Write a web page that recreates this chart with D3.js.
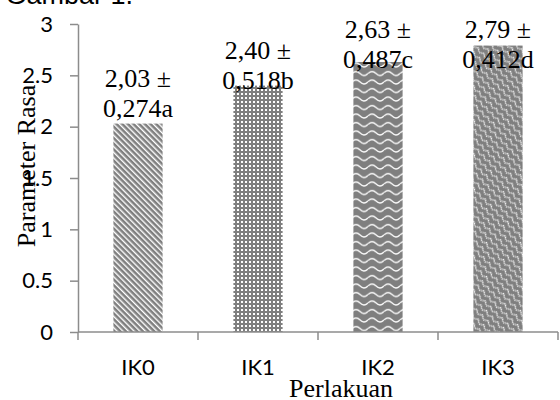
<!DOCTYPE html>
<html>
<head>
<meta charset="utf-8">
<script src="https://cdn.jsdelivr.net/npm/d3@7"></script>
<style>
body { margin: 0; background: #fff; }
svg { display: block; }
</style>
</head>
<body>
<svg width="560" height="400"></svg>
<script>
// data
var categories = ["IK0", "IK1", "IK2", "IK3"];
var means = [2.03, 2.40, 2.63, 2.79];
var sds = [0.274, 0.518, 0.487, 0.412];
var letters = ["a", "b", "c", "d"];
var yTicks = [0, 0.5, 1, 1.5, 2, 2.5, 3];
var yTickLabels = ["0", "0.5", "1", "1.5", "2", "2.5", "3"];

var svg = d3.select("svg");
var axisColor = "#8c8c8c";
var barGrey = "#7f7f7f";

var x = d3.scaleBand()
    .domain(categories)
    .range([78, 558])
    .paddingInner(0.59)
    .paddingOuter(0.295);

var y = d3.scaleLinear()
    .domain([0, 3])
    .range([332, 24]);

// fill patterns
var defs = svg.append("defs");

var p0 = defs.append("pattern")
    .attr("id", "pat0")
    .attr("patternUnits", "userSpaceOnUse")
    .attr("width", 4).attr("height", 4)
    .attr("patternTransform", "rotate(-45)");
p0.append("rect").attr("width", 4).attr("height", 4).attr("fill", barGrey);
p0.append("rect").attr("x", 0).attr("width", 1.4).attr("height", 4).attr("fill", "#fff");

var p1 = defs.append("pattern")
    .attr("id", "pat1")
    .attr("patternUnits", "userSpaceOnUse")
    .attr("width", 4).attr("height", 4);
p1.append("rect").attr("width", 4).attr("height", 4).attr("fill", barGrey);
p1.append("rect").attr("x", 1).attr("y", 1).attr("width", 2).attr("height", 2).attr("fill", "#fff");

var p2 = defs.append("pattern")
    .attr("id", "pat2")
    .attr("patternUnits", "userSpaceOnUse")
    .attr("width", 16).attr("height", 8.5);
p2.append("rect").attr("width", 16).attr("height", 8.5).attr("fill", barGrey);
p2.append("path")
    .attr("d", "M0,5.5 Q4,1.5 8,5.5 T16,5.5")
    .attr("fill", "none")
    .attr("stroke", "#fff")
    .attr("stroke-width", 1.3);

var p3 = defs.append("pattern")
    .attr("id", "pat3")
    .attr("patternUnits", "userSpaceOnUse")
    .attr("width", 8).attr("height", 6)
    .attr("patternTransform", "rotate(45)");
p3.append("rect").attr("width", 8).attr("height", 6).attr("fill", barGrey);
p3.append("path")
    .attr("d", "M0,4.5 L4,1.5 L8,4.5")
    .attr("fill", "none")
    .attr("stroke", "#fff")
    .attr("stroke-width", 1.4)
    .attr("stroke-dasharray", "1.2 0.8");

// bars
svg.append("g").selectAll("rect")
    .data(categories)
    .enter().append("rect")
    .attr("x", function(d) { return x(d); })
    .attr("y", function(d, i) { return y(means[i]); })
    .attr("width", x.bandwidth())
    .attr("height", function(d, i) { return y(0) - y(means[i]); })
    .attr("fill", function(d, i) { return "url(#pat" + i + ")"; });

// y axis
var yAxis = svg.append("g")
    .attr("transform", "translate(78,0)")
    .call(d3.axisLeft(y)
        .tickValues(yTicks)
        .tickFormat(function(d, i) { return yTickLabels[i]; })
        .tickSize(8)
        .tickSizeOuter(0)
        .tickPadding(17));
yAxis.select(".domain").attr("stroke", axisColor).attr("stroke-width", 1.5);
yAxis.selectAll(".tick line").attr("stroke", axisColor).attr("stroke-width", 1.5);
yAxis.selectAll(".tick text")
    .attr("fill", "#000")
    .style("font-family", "Lato, 'Open Sans', sans-serif")
    .style("font-size", "22px");

// x axis: line and ticks between categories
var xAxis = svg.append("g");
xAxis.append("line")
    .attr("x1", x.range()[0]).attr("x2", x.range()[1])
    .attr("y1", y(0)).attr("y2", y(0))
    .attr("stroke", axisColor).attr("stroke-width", 1.5);

var bounds = categories.map(function(d) { return x(d) - x.step() * x.paddingOuter(); });
bounds.push(x.range()[1]);
xAxis.selectAll(".xtick")
    .data(bounds)
    .enter().append("line")
    .attr("class", "xtick")
    .attr("x1", function(d) { return d; }).attr("x2", function(d) { return d; })
    .attr("y1", y(0)).attr("y2", y(0) + 8)
    .attr("stroke", axisColor).attr("stroke-width", 1.5);

xAxis.selectAll(".xlabel")
    .data(categories)
    .enter().append("text")
    .attr("class", "xlabel")
    .attr("x", function(d) { return x(d) + x.bandwidth() / 2; })
    .attr("y", 375)
    .attr("text-anchor", "middle")
    .style("font-family", "Lato, 'Open Sans', sans-serif")
    .style("font-size", "22px")
    .text(function(d) { return d; });

// value labels (Excel nudges them near the plot top)
var labelShift = [-7, 3, 6, 22];
var fmtMean = d3.format(".2f"), fmtSd = d3.format(".3f");
var labels = svg.append("g")
    .style("font-family", "'Liberation Serif', 'Times New Roman', serif")
    .style("font-size", "26px")
    .attr("text-anchor", "middle");

labels.selectAll("text")
    .data(categories)
    .enter().append("text")
    .attr("x", function(d) { return x(d) + x.bandwidth() / 2; })
    .attr("y", function(d, i) { return y(means[i]) + labelShift[i] - 30; })
    .each(function(d, i) {
        var t = d3.select(this);
        var cx = x(d) + x.bandwidth() / 2;
        t.append("tspan")
            .attr("x", cx)
            .text(fmtMean(means[i]).replace(".", ",") + " \u00b1");
        t.append("tspan")
            .attr("x", cx)
            .attr("dy", 30)
            .text(fmtSd(sds[i]).replace(".", ",") + letters[i]);
    });

// axis titles
svg.append("text")
    .attr("transform", "translate(35,166) rotate(-90)")
    .attr("text-anchor", "middle")
    .style("font-family", "'Liberation Serif', 'Times New Roman', serif")
    .style("font-size", "26px")
    .text("Parameter Rasa");

svg.append("text")
    .attr("x", 341)
    .attr("y", 397)
    .attr("text-anchor", "middle")
    .style("font-family", "'Liberation Serif', 'Times New Roman', serif")
    .style("font-size", "26px")
    .text("Perlakuan");

// caption cut off at the top
svg.append("text")
    .attr("x", 133)
    .attr("y", 4)
    .attr("text-anchor", "end")
    .style("font-family", "'Liberation Sans', Arial, sans-serif")
    .style("font-size", "27px")
    .text("Gambar 1.");
</script>
</body>
</html>
